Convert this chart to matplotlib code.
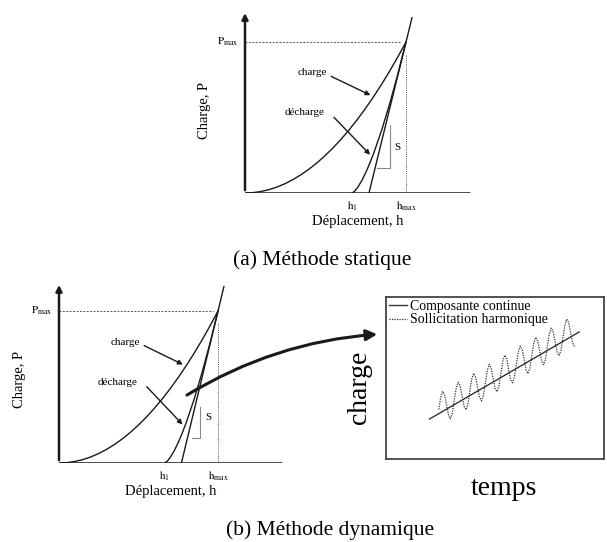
import matplotlib
matplotlib.use('Agg')
import matplotlib.pyplot as plt

plt.rcParams['font.family'] = ['Liberation Serif', 'DejaVu Serif']
plt.rcParams['mathtext.fontset'] = 'stix'

h_charge = [0, 0.05, 0.1, 0.15, 0.2, 0.25, 0.3, 0.35, 0.4, 0.45, 0.5,
            0.55, 0.6, 0.65, 0.7, 0.75, 0.8, 0.85, 0.9, 0.95, 1.0]
P_charge = [0, 0.0025, 0.01, 0.0225, 0.04, 0.0625, 0.09, 0.1225, 0.16, 0.2025, 0.25,
            0.3025, 0.36, 0.4225, 0.49, 0.5625, 0.64, 0.7225, 0.81, 0.9025, 1.0]

# courbe de decharge
h_decharge = [0.665, 0.68, 0.70, 0.725, 0.75, 0.775, 0.80, 0.85, 0.90, 0.95, 1.0]
P_decharge = [0, 0.011, 0.037, 0.081, 0.135, 0.197, 0.265, 0.420, 0.596, 0.790, 1.0]

# tangente (raideur S)
h_tangente = [0.77, 1.037]
P_tangente = [0, 1.16]

# triangles de pente S (statique / dynamique)
tri_h_a = [0.82, 0.90, 0.90]
tri_P_a = [0.166, 0.166, 0.45]
tri_h_b = [0.836, 0.887, 0.887]
tri_P_b = [0.164, 0.164, 0.368]

h1 = 0.665
hmax = 1.0
Pmax = 1.0

# signal: composante continue + sollicitation harmonique
t_cont = [0.20, 0.886]
charge_cont = [0.247, 0.784]

t_harm = [0.242, 0.251, 0.260, 0.269, 0.278, 0.287, 0.295, 0.304, 0.313, 0.322,
          0.331, 0.340, 0.349, 0.358, 0.367, 0.376, 0.384, 0.393, 0.402, 0.411,
          0.420, 0.429, 0.438, 0.447, 0.456, 0.465, 0.473, 0.482, 0.491, 0.500,
          0.509, 0.518, 0.527, 0.536, 0.545, 0.554, 0.562, 0.571, 0.580, 0.589,
          0.598, 0.607, 0.616, 0.625, 0.634, 0.643, 0.651, 0.660, 0.669, 0.678,
          0.687, 0.696, 0.705, 0.714, 0.723, 0.732, 0.740, 0.749, 0.758, 0.767,
          0.776, 0.785, 0.794, 0.803, 0.812, 0.821, 0.829, 0.838, 0.847, 0.856,
          0.865]
charge_harm = [0.305, 0.382, 0.418, 0.396, 0.333, 0.270, 0.248, 0.284, 0.361, 0.438,
               0.474, 0.452, 0.389, 0.326, 0.304, 0.340, 0.416, 0.493, 0.529, 0.507,
               0.444, 0.381, 0.359, 0.395, 0.472, 0.549, 0.585, 0.563, 0.500, 0.437,
               0.415, 0.451, 0.528, 0.605, 0.641, 0.619, 0.556, 0.493, 0.471, 0.507,
               0.584, 0.661, 0.697, 0.675, 0.612, 0.549, 0.527, 0.563, 0.640, 0.716,
               0.752, 0.730, 0.667, 0.604, 0.582, 0.618, 0.695, 0.772, 0.808, 0.786,
               0.723, 0.660, 0.638, 0.674, 0.751, 0.828, 0.864, 0.842, 0.779, 0.716,
               0.694]

ink = '#1a1a1a'
arrow_kw = dict(arrowstyle='-|>', color=ink, lw=1.0, mutation_scale=7)


def draw_panel(ax, tri_h, tri_P, y_top, x_end):
    ax.set_xlim(0, 1.45)
    ax.set_ylim(0, 1.25)
    ax.axis('off')

    # axes du diagramme
    ax.plot([0, x_end], [0, 0], color=ink, lw=1.8, solid_capstyle='butt')
    ax.annotate('', xy=(0, y_top), xytext=(0, 0),
                arrowprops=dict(arrowstyle='-|>', color=ink, lw=1.8, mutation_scale=9))

    ax.plot([0, 0.97], [Pmax, Pmax], color='#555555', lw=0.7, ls=(0, (2, 1.5)))
    ax.plot([hmax, hmax], [0, 0.92], color='#555555', lw=0.7, ls=(0, (1, 1.2)))

    ax.plot(h_charge, P_charge, color=ink, lw=1.0)
    ax.plot(h_decharge, P_decharge, color=ink, lw=1.0)
    ax.plot(h_tangente, P_tangente, color=ink, lw=1.0)
    ax.plot(tri_h, tri_P, color='#888888', lw=0.8)

    ax.text(tri_h[-1] + 0.03, 0.30, 'S', fontsize=8, va='center', ha='left')
    ax.text(-0.04, Pmax, r'$\mathrm{P}_{\mathrm{max}}$', fontsize=8, ha='right', va='center')
    ax.text(h1, -0.045, r'$\mathrm{h}_{\mathrm{1}}$', fontsize=8, ha='center', va='top')
    ax.text(hmax, -0.045, r'$\mathrm{h}_{\mathrm{max}}$', fontsize=8, ha='center', va='top')

    ax.text(-0.25, 0.55, 'Charge, P', fontsize=10.5, rotation=90, ha='center', va='center')
    ax.text(0.70, -0.19, 'Déplacement, h', fontsize=10.5, ha='center', va='center')

    ax.text(0.42, 0.795, 'charge', fontsize=8, ha='center', va='center')
    ax.annotate('', xy=(0.795, 0.64), xytext=(0.52, 0.78),
                arrowprops=arrow_kw, annotation_clip=False)
    ax.text(0.37, 0.53, 'décharge', fontsize=8, ha='center', va='center')
    ax.annotate('', xy=(0.789, 0.24), xytext=(0.54, 0.515),
                arrowprops=arrow_kw, annotation_clip=False)


fig = plt.figure(figsize=(6.07, 5.42), dpi=100)
W, H = 607.0, 542.0

ax_a = fig.add_axes([245 / W, (H - 193) / H, 1.45 * 161 / W, 1.25 * 151 / H])
draw_panel(ax_a, tri_h_a, tri_P_a, 1.21, 1.40)

ax_b = fig.add_axes([59 / W, (H - 463) / H, 1.45 * 159 / W, 1.25 * 152 / H])
draw_panel(ax_b, tri_h_b, tri_P_b, 1.19, 1.40)

ax_c = fig.add_axes([386 / W, (H - 459) / H, (604 - 386) / W, (459 - 297) / H])
ax_c.set_xlim(0, 1)
ax_c.set_ylim(0, 1)
ax_c.set_xticks([])
ax_c.set_yticks([])
for sp in ax_c.spines.values():
    sp.set_color('#444444')
    sp.set_linewidth(1.3)
ax_c.plot(t_cont, charge_cont, color='#333333', lw=1.0, label='Composante continue')
ax_c.plot(t_harm, charge_harm, color='#333333', lw=0.9, ls=(0, (1, 1)),
          label='Sollicitation harmonique')
ax_c.legend(loc='upper left', frameon=False, fontsize=10, handlelength=1.3,
            handletextpad=0.2, borderaxespad=0.1, borderpad=0.1, labelspacing=0.05)
ax_c.text(-0.12, 0.44, 'charge', fontsize=20, rotation=90, ha='center', va='center',
          transform=ax_c.transAxes)
ax_c.text(0.54, -0.18, 'temps', fontsize=20, ha='center', va='center',
          transform=ax_c.transAxes)

# fleche vers le signal dynamique
ax_b.annotate('', xy=(-0.04, 0.77), xycoords=ax_c.transData,
              xytext=(0.805, 0.447), textcoords=ax_b.transData,
              arrowprops=dict(arrowstyle='-|>', color=ink, lw=2.2, mutation_scale=16,
                              connectionstyle='arc3,rad=-0.12', shrinkA=0, shrinkB=0),
              annotation_clip=False)

fig.text(322 / W, 1 - 260 / H, '(a) Méthode statique', fontsize=15.5, ha='center', va='center')
fig.text(330 / W, 1 - 530 / H, '(b) Méthode dynamique', fontsize=15.5, ha='center', va='center')

fig.savefig('out.png', dpi=100)
